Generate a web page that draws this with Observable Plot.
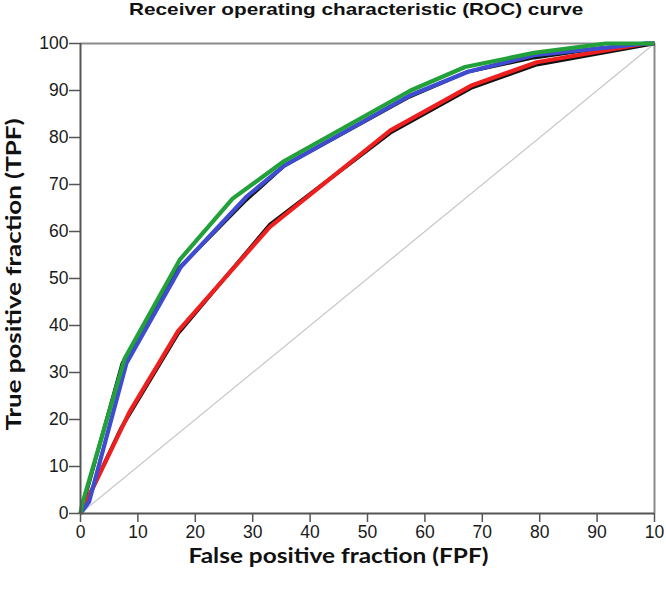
<!DOCTYPE html>
<html>
<head>
<meta charset="utf-8">
<script src="https://cdn.jsdelivr.net/npm/d3@7"></script>
<script src="https://cdn.jsdelivr.net/npm/@observablehq/plot@0.6"></script>
<style>
  html, body { margin: 0; padding: 0; background: #fff; }
  #wrap { width: 666px; height: 590px; position: relative; }
  #title { height: 28px; line-height: 19px; width: 666px; box-sizing: border-box; padding-left: 46px; text-align: center;
    font-family: "Liberation Sans", Arial, sans-serif; font-weight: bold; font-size: 17px; color: #111; }
  #title span { display: inline-block; transform: scaleX(1.22); transform-origin: center; }
  #chart g[aria-label="x-axis tick label"], #chart g[aria-label="y-axis tick label"] { font-size: 17.5px !important; fill: #1a1a1a; }
</style>
</head>
<body>
<div id="wrap">
  <div id="title"><span>Receiver operating characteristic (ROC) curve</span></div>
  <div id="chart"></div>
</div>
<script>
// Tick values
const xTicks = [0, 10, 20, 30, 40, 50, 60, 70, 80, 90, 100];
const yTicks = [0, 10, 20, 30, 40, 50, 60, 70, 80, 90, 100];

// Reference (chance) diagonal
const diagFPF = [0, 100];
const diagTPF = [0, 100];

// ROC curves (FPF %, TPF %)
const blackUpperFPF = [0, 7.3, 17, 28.5, 35.5, 57, 67.5, 79, 90.5, 100];
const blackUpperTPF = [0, 32, 52, 66.3, 74, 88.5, 94, 97, 99, 100];

const blackLowerFPF = [0, 7, 17, 33, 54, 68, 79.5, 100];
const blackLowerTPF = [0, 18, 38.3, 61.5, 81, 90.5, 95.5, 100];

const redFPF = [0, 0.8, 8.5, 17, 33, 54, 68, 79.5, 98.5, 100];
const redTPF = [0, 2, 21.5, 38.8, 61, 81.5, 91, 96, 100, 100];

const blueFPF = [0, 1.5, 8, 17.5, 29, 35.5, 57.5, 67.5, 79, 98.5, 100];
const blueTPF = [0, 2.5, 32, 52.5, 67.5, 74, 89, 94, 97.5, 100, 100];

const greenFPF = [0, 0.3, 7.7, 17.3, 26.5, 35.5, 57.5, 67, 79, 91.5, 100];
const greenTPF = [0, 2, 33, 54, 67, 75, 90, 95, 98, 100, 100];

const seriesNames = ["black-upper", "black-lower", "red", "blue", "green"];
const seriesColors = ["#111111", "#111111", "#ee1f1f", "#3f4bd1", "#22a03a"];
const seriesWidths = [3.6, 3.6, 4.2, 4.2, 4.2];
const seriesX = [blackUpperFPF, blackLowerFPF, redFPF, blueFPF, greenFPF];
const seriesY = [blackUpperTPF, blackLowerTPF, redTPF, blueTPF, greenTPF];

const xLabel = "False positive fraction (FPF)";
const yLabel = "True positive fraction (TPF)";

const diag = diagFPF.map((x, i) => ({fpf: x, tpf: diagTPF[i]}));

const curveMarks = seriesNames.map((name, s) => {
  const rows = seriesX[s].map((x, i) => ({series: name, fpf: x, tpf: seriesY[s][i]}));
  return Plot.line(rows, {x: "fpf", y: "tpf", stroke: seriesColors[s], strokeWidth: seriesWidths[s], strokeLinejoin: "miter", strokeLinecap: "butt"});
});

const chart = Plot.plot({
  width: 666,
  height: 562,
  marginTop: 15,
  marginRight: 12,
  marginBottom: 77,
  marginLeft: 80,
  style: {fontFamily: "'Liberation Sans', Arial, sans-serif", fontSize: "17.5px", color: "#1a1a1a", background: "#fff", overflow: "visible"},
  x: {domain: [0, 100]},
  y: {domain: [0, 100]},
  marks: [
    Plot.ruleY([100], {stroke: "#8a8a8a", strokeWidth: 2}),
    Plot.ruleX([100], {stroke: "#8a8a8a", strokeWidth: 2}),
    Plot.line(diag, {x: "fpf", y: "tpf", stroke: "#c6c6c6", strokeWidth: 1.2}),
    ...curveMarks,
    Plot.axisX({ticks: xTicks, tickSize: 9, tickPadding: 3, stroke: "#555", strokeWidth: 1.5, label: null, fontSize: 17.5,
      tickFormat: d => d === 100 ? "10" : String(d)}),
    Plot.axisY({ticks: yTicks, tickSize: 11, tickPadding: 1, stroke: "#555", strokeWidth: 1.5, label: null, fontSize: 17.5}),
    Plot.ruleY([0], {stroke: "#555", strokeWidth: 2}),
    Plot.ruleX([0], {stroke: "#555", strokeWidth: 2}),
    Plot.text([xLabel], {frameAnchor: "bottom", lineAnchor: "middle", textAnchor: "middle", dx: -29, dy: 43,
      fontFamily: "Lato, 'Open Sans', sans-serif", fontWeight: "bold", fontSize: 21, fill: "#111", className: "xlab"}),
    Plot.text([yLabel], {frameAnchor: "left", lineAnchor: "middle", textAnchor: "middle", rotate: -90, dx: -66, dy: -4,
      fontFamily: "Lato, 'Open Sans', sans-serif", fontWeight: "bold", fontSize: 21, fill: "#111", className: "ylab"})
  ]
});
document.getElementById("chart").appendChild(chart);
// stretch the axis titles to the width they occupy in the reference
chart.querySelectorAll("g.xlab text").forEach(t => { t.setAttribute("textLength", 300); t.setAttribute("lengthAdjust", "spacingAndGlyphs"); });
chart.querySelectorAll("g.ylab text").forEach(t => { t.setAttribute("textLength", 312); t.setAttribute("lengthAdjust", "spacingAndGlyphs"); });
</script>
</body>
</html>
